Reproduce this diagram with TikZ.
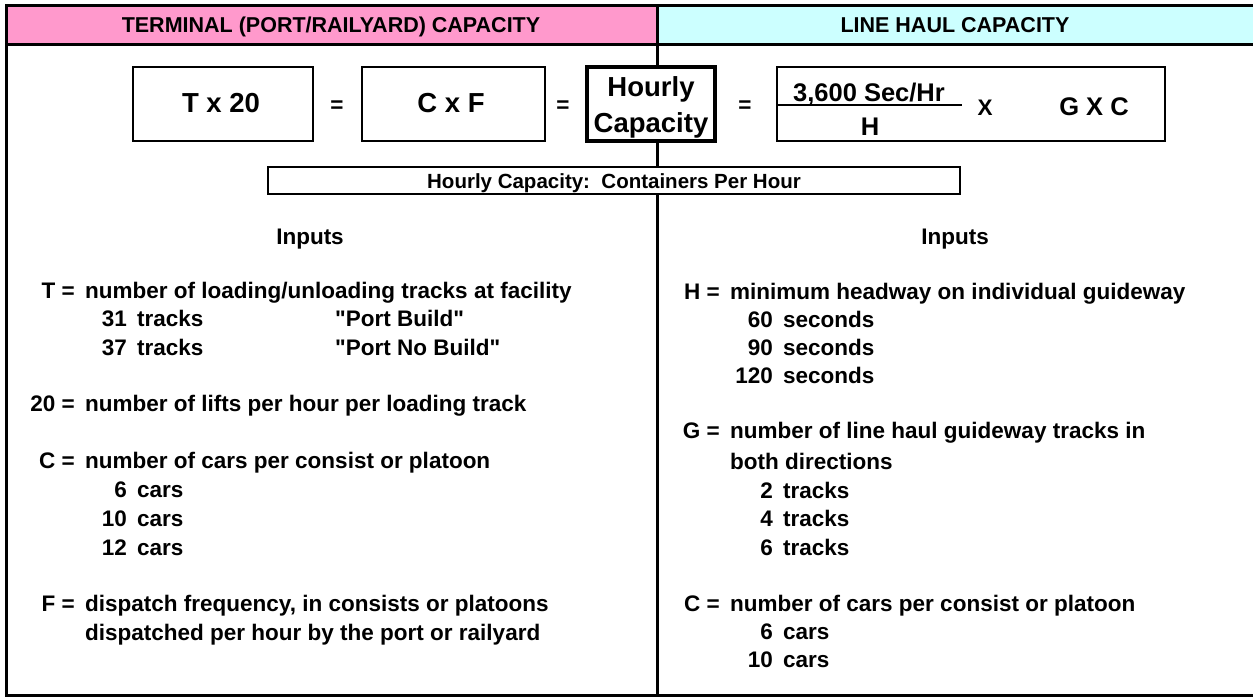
\documentclass[tikz,border=0pt]{standalone}
\usepackage{fontspec}
\setmainfont{Liberation Sans}
\newfontfamily\lsans{Liberation Sans}
\definecolor{hpink}{HTML}{FF99CC}
\definecolor{hcyan}{HTML}{CCFFFF}
\begin{document}
\begin{tikzpicture}[x=1pt,y=-1pt,
  txt/.style={font=\lsans\fontsize{22.5}{26}\selectfont\bfseries, inner sep=0pt},
  hdr/.style={font=\lsans\fontsize{21.5}{24}\selectfont\bfseries, inner sep=0pt},
  big/.style={font=\lsans\fontsize{27.5}{32}\selectfont\bfseries, inner sep=0pt},
  frac/.style={font=\lsans\fontsize{25.5}{30}\selectfont\bfseries, inner sep=0pt},
  frame/.style={line width=3pt},
  ebox/.style={draw, line width=2pt}]
\useasboundingbox (0,0) rectangle (1253,698);
% header bands
\fill[hpink] (6,6) rectangle (657,45);
\fill[hcyan] (657,6) rectangle (1260,45);
\draw[frame] (1260,6) -- (6,6) -- (6,695) -- (1260,695);
\draw[frame] (6,45) -- (1260,45);
\draw[frame] (657,6) -- (657,695);
\node[hdr, anchor=mid] (h1) at (331,30) {TERMINAL (PORT/RAILYARD) CAPACITY};
\node[hdr, anchor=mid] (h2) at (955,30) {LINE HAUL CAPACITY};
% equation boxes
\draw[ebox, fill=white] (133,67) rectangle (313,141);
\node[big, anchor=mid] (t20) at (221,110) {T x 20};
\node[txt, anchor=mid] (eq1) at (337,110) {=};
\draw[ebox, fill=white] (362,67) rectangle (545,141);
\node[big, anchor=mid] (cxf) at (451,110) {C x F};
\node[txt, anchor=mid] (eq2) at (563,110) {=};
\draw[line width=3.5pt, fill=white] (587,67) rectangle (715,141);
\node[big, align=center] (hc) at (651,107) {Hourly\\[4pt]Capacity};
\node[txt, anchor=mid] (eq3) at (745,110) {=};
\draw[ebox, fill=white] (777,67) rectangle (1165,141);
\node[frac, anchor=mid] (num) at (869,99) {3,600 Sec/Hr};
\draw[line width=1.5pt] (777,105) -- (962,105);
\node[frac, anchor=mid] (den) at (870,133) {H};
\node[txt, anchor=mid] (xx) at (985,113) {X};
\node[frac, anchor=mid] (gxc) at (1094,113) {G X C};
\draw[ebox, fill=white] (268,167) rectangle (960,194);
\node[font=\lsans\fontsize{20.5}{24}\selectfont\bfseries, inner sep=0pt, anchor=mid] (hcc) at (614,186) {Hourly Capacity:\ \ Containers Per Hour};
% left inputs
\node[txt, anchor=mid] (in1) at (310,242) {Inputs};
\node[txt, anchor=mid east] (lt) at (75,296) {T =};
\node[txt, anchor=mid west] (ltd) at (85,296) {number of loading/unloading tracks at facility};
\node[txt, anchor=mid east] (n31) at (127,324) {31};
\node[txt, anchor=mid west] (n31t) at (137,324) {tracks};
\node[txt, anchor=mid west] (pb) at (335,324) {"Port Build"};
\node[txt, anchor=mid east] (n37) at (127,353) {37};
\node[txt, anchor=mid west] (n37t) at (137,353) {tracks};
\node[txt, anchor=mid west] (pnb) at (335,353) {"Port No Build"};
\node[txt, anchor=mid east] (l20) at (75,409) {20 =};
\node[txt, anchor=mid west] (l20d) at (85,409) {number of lifts per hour per loading track};
\node[txt, anchor=mid east] (lc) at (75,466) {C =};
\node[txt, anchor=mid west] (lcd) at (85,466) {number of cars per consist or platoon};
\node[txt, anchor=mid east] (c6) at (127,495) {6};
\node[txt, anchor=mid west] (c6t) at (137,495) {cars};
\node[txt, anchor=mid east] (c10) at (127,524) {10};
\node[txt, anchor=mid west] (c10t) at (137,524) {cars};
\node[txt, anchor=mid east] (c12) at (127,553) {12};
\node[txt, anchor=mid west] (c12t) at (137,553) {cars};
\node[txt, anchor=mid east] (lf) at (75,609) {F =};
\node[txt, anchor=mid west] (lfd) at (85,609) {dispatch frequency, in consists or platoons};
\node[txt, anchor=mid west] (lfd2) at (85,638) {dispatched per hour by the port or railyard};
% right inputs
\node[txt, anchor=mid] (in2) at (955,242) {Inputs};
\node[txt, anchor=mid east] (rh) at (720,297) {H =};
\node[txt, anchor=mid west] (rhd) at (730,297) {minimum headway on individual guideway};
\node[txt, anchor=mid east] (s60) at (773,325) {60};
\node[txt, anchor=mid west] (s60t) at (783,325) {seconds};
\node[txt, anchor=mid east] (s90) at (773,353) {90};
\node[txt, anchor=mid west] (s90t) at (783,353) {seconds};
\node[txt, anchor=mid east] (s120) at (773,381) {120};
\node[txt, anchor=mid west] (s120t) at (783,381) {seconds};
\node[txt, anchor=mid east] (rg) at (720,436) {G =};
\node[txt, anchor=mid west] (rgd) at (730,436) {number of line haul guideway tracks in};
\node[txt, anchor=mid west] (rgd2) at (730,467) {both directions};
\node[txt, anchor=mid east] (g2) at (773,496) {2};
\node[txt, anchor=mid west] (g2t) at (783,496) {tracks};
\node[txt, anchor=mid east] (g4) at (773,524) {4};
\node[txt, anchor=mid west] (g4t) at (783,524) {tracks};
\node[txt, anchor=mid east] (g6) at (773,553) {6};
\node[txt, anchor=mid west] (g6t) at (783,553) {tracks};
\node[txt, anchor=mid east] (rc) at (720,609) {C =};
\node[txt, anchor=mid west] (rcd) at (730,609) {number of cars per consist or platoon};
\node[txt, anchor=mid east] (rc6) at (773,637) {6};
\node[txt, anchor=mid west] (rc6t) at (783,637) {cars};
\node[txt, anchor=mid east] (rc10) at (773,665) {10};
\node[txt, anchor=mid west] (rc10t) at (783,665) {cars};
\end{tikzpicture}
\end{document}
